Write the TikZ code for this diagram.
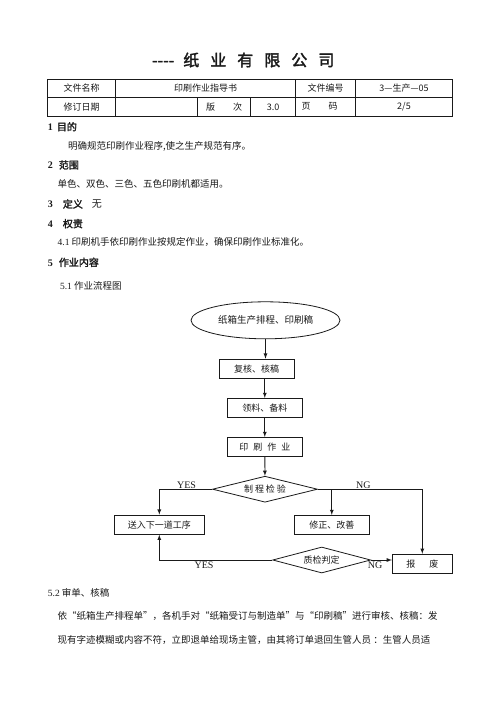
\documentclass[tikz,border=0pt]{standalone}
\usepackage{fontspec}
\setmainfont{Liberation Serif}
\newfontfamily\cjk[AutoFakeBold=2]{Noto Sans CJK SC}
\usetikzlibrary{positioning,shapes.geometric}
\definecolor{inkblack}{HTML}{1A1A1A}

\begin{document}
\begin{tikzpicture}[x=1pt,y=-1pt,line width=.8pt,draw=inkblack,text=inkblack,font=\cjk\fontsize{9.5}{11}\selectfont]
\tikzstyle{cell}=[inner sep=0pt,font=\cjk\fontsize{9}{10}\selectfont]
\tikzstyle{para}=[anchor=west,inner sep=0pt]
\tikzstyle{head}=[anchor=west,inner sep=0pt,font=\cjk\bfseries\fontsize{10}{12}\selectfont]
\tikzstyle{stepbox}=[draw,rectangle,inner sep=0pt,minimum width=75pt,minimum height=19.3pt,font=\cjk\fontsize{9}{10}\selectfont]
\tikzstyle{decide}=[draw,diamond,aspect=4,inner sep=0pt,minimum width=105pt,minimum height=26pt,font=\cjk\fontsize{9}{10}\selectfont]
\tikzstyle{tag}=[inner sep=0pt,font=\rmfamily\fontsize{10}{11}\selectfont]
\tikzstyle{flow}=[-latex]
\useasboundingbox[fill=white] (0,0) rectangle (496,702);

\node[anchor=west,inner sep=0pt,font=\cjk\bfseries\fontsize{16}{18}\selectfont] (title) at (151.7,60) {-{}-{}-{}-\hspace{9pt}纸\hspace{11pt}业\hspace{11pt}有\hspace{11pt}限\hspace{11pt}公\hspace{11pt}司};

\draw (47.5,79) rectangle (452.3,116.3);
\draw (47.5,97.3) -- (452.3,97.3);
\draw (115.7,79) -- (115.7,116.3);
\draw (295.7,79) -- (295.7,116.3);
\draw (355.7,79) -- (355.7,116.3);
\draw (197.7,97.3) -- (197.7,116.3);
\draw (250.7,97.3) -- (250.7,116.3);
\node[cell] (docname) at (81.6,88.2) {文件名称};
\node[cell] (docvalue) at (205.7,88.2) {印刷作业指导书};
\node[cell] (docno) at (325.7,88.2) {文件编号};
\node[cell] (docnovalue) at (404,88.2) {3—生产—05};
\node[cell] (revdate) at (81.6,106.8) {修订日期};
\node[cell] (edition) at (224.2,106.8) {版\hspace{18pt}次};
\node[cell] (editionvalue) at (273.2,106.8) {3.0};
\node[cell] (pageno) at (319.5,106.8) {页\hspace{18pt}码};
\node[cell] (pagevalue) at (404,106.8) {2/5};

\node[head] (aim) at (47.5,126.7) {{\rmfamily\bfseries 1}\hspace{4pt}目的};
\node[para] (aimtext) at (67.7,146) {明确规范印刷作业程序,使之生产规范有序。};
\node[head] (scope) at (47.5,165) {{\rmfamily\bfseries 2}\hspace{6pt}范围};
\node[para] (scopetext) at (57.3,184.3) {单色、双色、三色、五色印刷机都适用。};
\node[head] (define) at (47.5,204) {{\rmfamily\bfseries 3}\hspace{10pt}定义\hspace{9pt}\mdseries 无};
\node[head] (duty) at (47.5,223.7) {{\rmfamily\bfseries 4}\hspace{10pt}权责};
\node[para] (dutytext) at (57.3,242.3) {{\rmfamily 4.1} 印刷机手依印刷作业按规定作业，确保印刷作业标准化。};
\node[head] (work) at (47.5,262.3) {{\rmfamily\bfseries 5}\hspace{6pt}作业内容};
\node[para] (flowtitle) at (59.7,285.7) {{\rmfamily 5.1} 作业流程图};

\node[draw,ellipse,inner sep=0pt,minimum width=149pt,minimum height=37pt] (source) at (265.5,320.3) {纸箱生产排程、印刷稿};
\node[stepbox] (recheck) at (256.7,368.7) {复核、核稿};
\node[stepbox] (material) at (264.8,408) {领料、备料};
\node[stepbox] (printing) at (264.8,447) {印\hspace{5pt}刷\hspace{5pt}作\hspace{5pt}业};
\node[decide] (inspect) at (265,489.2) {制\hspace{2pt}程\hspace{2pt}检\hspace{2pt}验};
\node[stepbox,minimum width=90pt] (nextstep) at (159.3,524.7) {送入下一道工序};
\node[stepbox] (fix) at (331.8,525) {修正、改善};
\node[decide,minimum width=98pt] (qc) at (321.7,560) {质检判定};
\node[stepbox,minimum width=60pt] (scrap) at (422.3,563.8) {报\hspace{14pt}废};

\draw[flow] (source.south) -- (source.south |- recheck.north);
\draw[flow] (material.north |- recheck.south) -- (material.north);
\draw[flow] (material) -- (printing);
\draw[flow] (printing) -- (inspect);
\draw[flow] (inspect.west) -| (nextstep.north);
\draw[flow] (inspect.east) -| (scrap.north);
\draw[flow] (fix.north |- inspect.east) -- (fix.north);
\draw[flow] (qc.west) -| (nextstep.south);
\draw[flow] (qc.east) -- (scrap.west |- qc.east);
\node[tag] (yesup) at (186.5,485.5) {YES};
\node[tag] (ngup) at (363.3,485.5) {NG};
\node[tag] (yesdown) at (204,565) {YES};
\node[tag] (ngdown) at (375,565) {NG};

\node[para] (review) at (47.5,593.3) {{\rmfamily 5.2} 审单、核稿};
\node[para] (reviewone) at (57.3,616) {依“纸箱生产排程单”，各机手对“纸箱受订与制造单”与“印刷稿”进行审核、核稿：发};
\node[para] (reviewtwo) at (57.3,640) {现有字迹模糊或内容不符，立即退单给现场主管，由其将订单退回生管人员 ：生管人员适};
\end{tikzpicture}
\end{document}
